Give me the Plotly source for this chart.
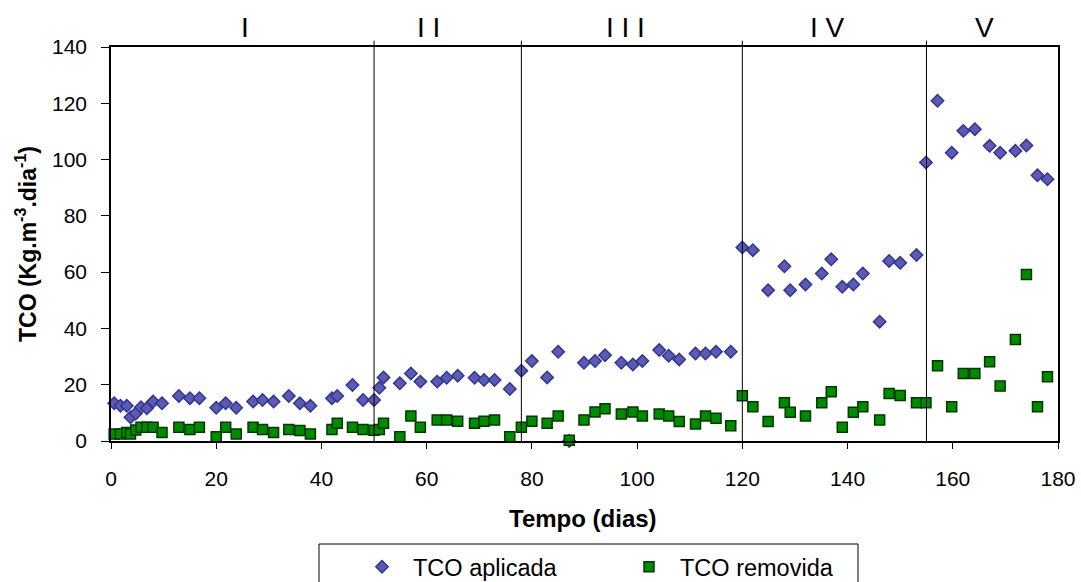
import plotly.graph_objects as go

# Operating time (days) for each sample
days = [0.6, 1.8, 3.0, 3.7, 4.7, 5.7, 6.8, 8.0, 9.7, 12.9, 15.0, 16.8, 20.0, 21.8, 23.8,
        27.0, 28.8, 30.9, 33.8, 35.9, 37.9, 42.0, 43.0, 45.9, 47.9, 50.0,
        51.0, 51.8, 54.9, 57.0, 58.8, 62.0, 63.8, 65.9, 69.1, 70.9, 72.9, 75.8,
        78.0, 80.0, 82.9, 85.0, 87.1, 89.9, 92.0, 93.9, 97.0, 99.2, 101.0, 104.2,
        106.0, 108.0, 111.1, 113.0, 115.0, 117.8,
        120.0, 122.0, 124.9, 128.0, 129.1, 132.0, 135.1, 136.9, 139.0, 141.1, 142.9,
        146.1, 147.9, 150.0, 153.1,
        154.9, 157.1, 159.8, 162.0, 164.2, 167.0, 169.0, 171.9, 174.0, 176.1, 178.0]

# Applied organic load (kg COD m-3 d-1)
tco_aplicada = [13.4, 12.5, 12.5, 8.4, 9.8, 12.0, 11.6, 14.0, 13.4, 16.0, 15.2, 15.2, 11.8, 13.4, 11.8,
                14.0, 14.6, 14.0, 16.0, 13.4, 12.5, 15.2, 16.0, 19.9, 14.6, 14.6,
                18.9, 22.6, 20.5, 24.0, 21.1, 21.1, 22.5, 23.2, 22.5, 21.7, 21.7, 18.5,
                25.0, 28.4, 22.6, 31.7, 0.0, 27.8, 28.4, 30.5, 27.8, 27.2, 28.4, 32.3,
                30.3, 29.0, 31.1, 31.1, 31.7, 31.7,
                68.8, 67.8, 53.6, 62.1, 53.6, 55.6, 59.5, 64.6, 54.8, 55.6, 59.5,
                42.4, 64.0, 63.3, 66.1,
                99.0, 120.9, 102.4, 110.2, 110.8, 104.9, 102.4, 103.1, 105.0, 94.4, 93.0]

# Removed organic load (kg COD m-3 d-1)
tco_removida = [2.5, 2.5, 3.0, 2.5, 3.9, 4.9, 4.9, 4.9, 3.0, 4.9, 4.1, 4.9, 1.5, 4.9, 2.5,
                4.9, 4.1, 3.0, 4.1, 3.7, 2.5, 4.1, 6.3, 4.9, 4.1, 3.8,
                4.1, 6.3, 1.5, 8.9, 4.9, 7.5, 7.5, 7.0, 6.3, 7.0, 7.5, 1.5,
                4.9, 7.0, 6.3, 8.9, 0.3, 7.5, 10.3, 11.5, 9.6, 10.3, 8.9, 9.6,
                8.9, 6.9, 6.0, 8.9, 8.1, 5.4,
                16.1, 12.2, 6.9, 13.6, 10.2, 8.9, 13.6, 17.5, 4.9, 10.2, 12.2,
                7.5, 16.9, 16.2, 13.6,
                13.6, 26.7, 12.2, 24.0, 24.0, 28.2, 19.5, 36.1, 59.2, 12.2, 22.8]

# Operating phases: boundaries and labels
phase_bounds = [50, 78, 120, 155]
phase_names = ["I", "I I", "I I I", "I V", "V"]
phase_label_x = [25.5, 60.3, 97.8, 136.1, 166.0]

x_ticks = [0, 20, 40, 60, 80, 100, 120, 140, 160, 180]
y_ticks = [0, 20, 40, 60, 80, 100, 120, 140]

FONT = "Liberation Sans, Arial, sans-serif"

fig = go.Figure()
fig.add_trace(go.Scatter(
    x=days, y=tco_aplicada, mode="markers", name="TCO aplicada",
    marker=dict(symbol="diamond", size=9.5, color="#5c5cae",
                line=dict(color="#33339a", width=1.5)),
    cliponaxis=False,
))
fig.add_trace(go.Scatter(
    x=days, y=tco_removida, mode="markers", name="TCO removida",
    marker=dict(symbol="square", size=10, color="#008a00",
                line=dict(color="#003800", width=1.5)),
    cliponaxis=False,
))

shapes = []
for b in phase_bounds:
    shapes.append(dict(type="line", xref="x", yref="paper", x0=b, x1=b, y0=0, y1=1.016,
                       line=dict(color="black", width=1)))
# legend frame
shapes.append(dict(type="rect", xref="paper", yref="paper",
                   x0=(319 - 111) / 947, x1=(858 - 111) / 947,
                   y0=(441 - 600) / 394, y1=(441 - 544) / 394,
                   line=dict(color="black", width=1), fillcolor="rgba(0,0,0,0)"))

annotations = []
for name, xp in zip(phase_names, phase_label_x):
    annotations.append(dict(x=xp, y=(441 - 27) / 394, xref="x", yref="paper",
                            text=name, showarrow=False,
                            font=dict(family=FONT, size=28, color="black"),
                            xanchor="center", yanchor="middle"))
annotations.append(dict(x=(583 - 111) / 947, y=(441 - 518) / 394, xref="paper", yref="paper",
                        text="<b>Tempo (dias)</b>", showarrow=False,
                        font=dict(family=FONT, size=24, color="black"),
                        xanchor="center", yanchor="middle"))
annotations.append(dict(x=(26 - 111) / 947, y=0.5, xref="paper", yref="paper",
                        text="<b>TCO (Kg.m<sup>-3</sup>.dia<sup>-1</sup>)</b>", showarrow=False,
                        textangle=-90,
                        font=dict(family=FONT, size=23, color="black"),
                        xanchor="center", yanchor="middle"))

fig.update_layout(
    width=1081, height=582,
    margin=dict(l=111, r=23, t=47, b=141, autoexpand=False),
    paper_bgcolor="white", plot_bgcolor="white",
    font=dict(family=FONT, size=21, color="black"),
    showlegend=True,
    legend=dict(orientation="h", x=(351 - 111) / 947, y=(441 - 545) / 394,
                xanchor="left", yanchor="top",
                font=dict(family=FONT, size=23.5, color="black"),
                entrywidth=200, itemwidth=52,
                bgcolor="rgba(0,0,0,0)", borderwidth=0),
    shapes=shapes,
    annotations=annotations,
    xaxis=dict(range=[0, 180], tickvals=x_ticks, ticks="outside", ticklen=6,
               tickwidth=1, tickcolor="black", showline=True, linecolor="black",
               linewidth=1.5, mirror=True, showgrid=False, zeroline=False,
               ticklabelstandoff=12, tickfont=dict(size=21)),
    yaxis=dict(range=[0, 140], tickvals=y_ticks, ticks="outside", ticklen=8,
               tickwidth=1, tickcolor="black", showline=True, linecolor="black",
               linewidth=1.5, mirror=True, showgrid=False, zeroline=False,
               ticklabelstandoff=10, tickfont=dict(size=21)),
)

fig.write_html("out.html")
